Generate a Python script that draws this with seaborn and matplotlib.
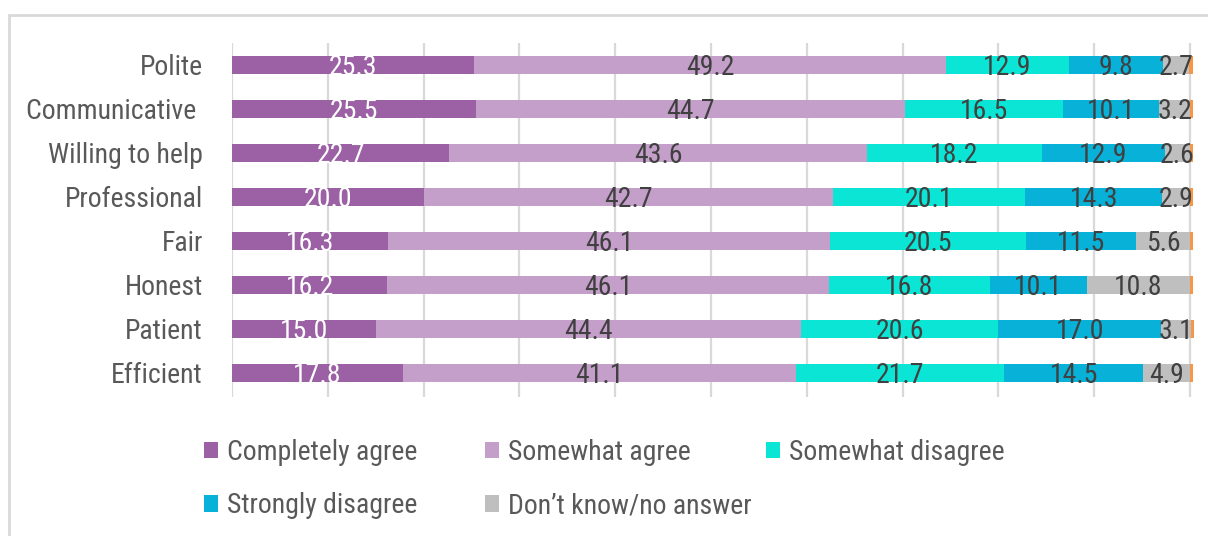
import numpy as np
import pandas as pd
import matplotlib
matplotlib.use("Agg")
import matplotlib.pyplot as plt
import seaborn as sns
from matplotlib.patches import Rectangle, Patch

categories = ["Polite", "Communicative ", "Willing to help", "Professional",
              "Fair", "Honest", "Patient", "Efficient"]
completely_agree = [25.3, 25.5, 22.7, 20.0, 16.3, 16.2, 15.0, 17.8]
somewhat_agree = [49.2, 44.7, 43.6, 42.7, 46.1, 46.1, 44.4, 41.1]
somewhat_disagree = [12.9, 16.5, 18.2, 20.1, 20.5, 16.8, 20.6, 21.7]
strongly_disagree = [9.8, 10.1, 12.9, 14.3, 11.5, 10.1, 17.0, 14.5]
dont_know = [2.7, 3.2, 2.6, 2.9, 5.6, 10.8, 3.1, 4.9]
other = [0.4, 0.3, 0.3, 0.3, 0.3, 0.3, 0.3, 0.3]

series_names = ["Completely agree", "Somewhat agree", "Somewhat disagree",
                "Strongly disagree", "Don\u2019t know/no answer", "Other"]
series_values = [completely_agree, somewhat_agree, somewhat_disagree,
                 strongly_disagree, dont_know, other]
colors = ["#9B61A4", "#C49FC9", "#0BE5D6", "#08B1D8", "#BFBFBF", "#F79646"]
label_colors = ["white", "#404040", "#404040", "#404040", "#404040", None]

sns.set_theme(style="white")
plt.rcParams["font.family"] = ["Roboto Condensed", "Roboto", "DejaVu Sans"]
FS = 20

W, H = 1208, 536
fig = plt.figure(figsize=(W / 100, H / 100), dpi=100)
x0, x100 = 232, 1190
ppu = (x100 - x0) / 100.0
xmax = 100.4
ax_left = x0 / W
ax_right = (x0 + xmax * ppu) / W
ax_top = 1 - 43 / H
ax_bottom = 1 - 397 / H
ax = fig.add_axes([ax_left, ax_bottom, ax_right - ax_left, ax_top - ax_bottom])

vals = np.array(series_values)
cums = np.cumsum(vals, axis=0)
df = pd.DataFrame({"category": categories})
for i in range(len(series_names) - 1, -1, -1):
    df["cum"] = cums[i]
    sns.barplot(data=df, x="cum", y="category", order=categories, orient="h",
                color=colors[i], width=0.4, ax=ax, saturation=1,
                edgecolor="none", linewidth=0, zorder=2)

# value labels
for i in range(5):
    for j, cat in enumerate(categories):
        v = vals[i, j]
        center = cums[i, j] - v / 2
        ax.text(center, j + 0.06, f"{v:.1f}", ha="center", va="center",
                fontsize=FS, color=label_colors[i], zorder=5)

ax.set_xlim(0, xmax)
ax.set_ylim(7.55, -0.5)
ax.set_xticks(np.arange(0, 101, 10))
ax.xaxis.grid(True, color="#D9D9D9", linewidth=1.6, zorder=0)
ax.set_axisbelow(True)
ax.tick_params(axis="x", labelbottom=False, length=0)
ax.tick_params(axis="y", length=0, pad=21, labelsize=FS, labelcolor="#595959")
ax.set_xlabel("")
ax.set_ylabel("")
for s in ax.spines.values():
    s.set_visible(False)

# legend (three columns as separate legends)
col_x = [204, 485, 766]
rows = [[0, 3], [1, 4], [2]]
for cx, idxs in zip(col_x, rows):
    handles = [Patch(facecolor=colors[k], edgecolor="none") for k in idxs]
    labels = [series_names[k] for k in idxs]
    fig.legend(handles, labels, loc="upper left",
               bbox_to_anchor=(cx / W, 1 - 439 / H), frameon=False,
               fontsize=FS, handlelength=0.52, handleheight=0.52,
               handletextpad=0.3, labelspacing=0.95, borderpad=0,
               borderaxespad=0, labelcolor="#595959")

# outer frame
fig.patches.append(Rectangle((9 / W, -0.1), 1.2, (H - 15) / H + 0.1,
                             transform=fig.transFigure, fill=False,
                             edgecolor="#D9D9D9", linewidth=2, zorder=0))

fig.savefig("out.png", dpi=100)
